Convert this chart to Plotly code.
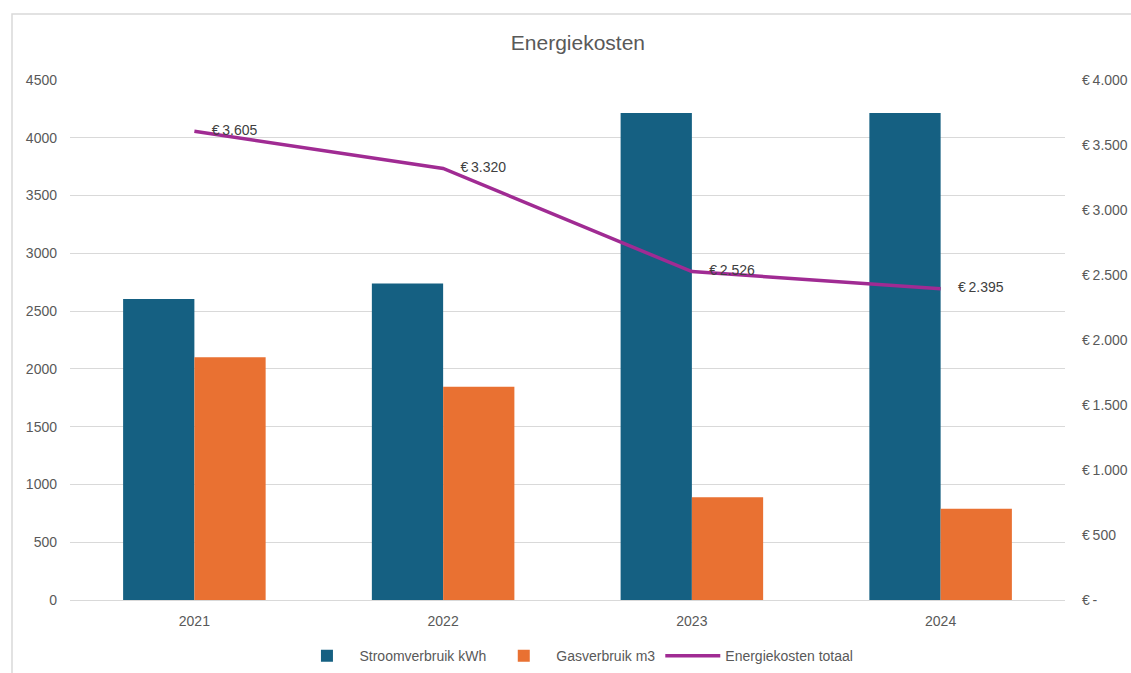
import plotly.graph_objects as go

years = ["2021", "2022", "2023", "2024"]
stroom_kwh = [2605, 2740, 4215, 4215]
gas_m3 = [2100, 1845, 890, 790]
kosten = [3605, 3320, 2526, 2395]
kosten_labels = ["€\u20093.605", "€\u20093.320", "€\u20092.526", "€\u20092.395"]

y1_ticks = [0, 500, 1000, 1500, 2000, 2500, 3000, 3500, 4000, 4500]
y2_ticks = [0, 500, 1000, 1500, 2000, 2500, 3000, 3500, 4000]
y2_ticktext = ["€\u2009-", "€\u2009500", "€\u20091.000", "€\u20091.500", "€\u20092.000",
               "€\u20092.500", "€\u20093.000", "€\u20093.500", "€\u20094.000"]

font_fam = "Liberation Sans, Arial, sans-serif"
grey = "#595959"

fig = go.Figure()
fig.add_trace(go.Bar(x=years, y=stroom_kwh, name="Stroomverbruik kWh",
                     marker=dict(color="#156082", line=dict(width=0))))
fig.add_trace(go.Bar(x=years, y=gas_m3, name="Gasverbruik m3",
                     marker=dict(color="#E97132", line=dict(width=0))))
fig.add_trace(go.Scatter(x=years, y=kosten, name="Energiekosten totaal", yaxis="y2",
                         mode="lines+markers+text", text=kosten_labels, textposition="middle right",
                         marker=dict(size=26, color="rgba(0,0,0,0)"),
                         textfont=dict(size=14, color="#404040", family=font_fam),
                         line=dict(color="#A02B93", width=3.5)))

fig.update_layout(
    width=1131, height=673,
    margin=dict(l=70, r=66, t=80, b=73, autoexpand=False),
    paper_bgcolor="white", plot_bgcolor="white",
    font=dict(family=font_fam, color=grey, size=14),
    title=dict(text="Energiekosten", x=0.511, xanchor="center", y=0.936, yanchor="middle",
               font=dict(size=21, color=grey, family=font_fam)),
    barmode="group", bargap=0.427, bargroupgap=0,
    xaxis=dict(type="category", showgrid=False, showline=True, linecolor="#d9d9d9",
               tickfont=dict(size=14, color=grey), ticks="", ticklabelstandoff=8,
               automargin=False),
    yaxis=dict(range=[0, 4500], tickvals=y1_ticks, showgrid=True, gridcolor="#d9d9d9",
               gridwidth=1, zeroline=False, tickfont=dict(size=14, color=grey),
               ticklabelstandoff=12, automargin=False),
    yaxis2=dict(range=[0, 4000], overlaying="y", side="right", tickvals=y2_ticks,
                ticktext=y2_ticktext, showgrid=False, zeroline=False,
                tickfont=dict(size=14, color=grey), ticklabelstandoff=16,
                automargin=False),
    legend=dict(orientation="h", x=0.509, xanchor="center", y=-0.108, yanchor="middle",
                font=dict(size=14, color=grey), traceorder="normal", itemwidth=55),
    showlegend=True,
    shapes=[dict(type="rect", xref="paper", yref="paper",
                 x0=(12 - 70) / 995, x1=1.2, y0=-0.3, y1=1 + (80 - 14) / 520,
                 line=dict(color="#d9d9d9", width=1.5), fillcolor="rgba(0,0,0,0)",
                 layer="below")],
)

fig.write_html("out.html", config={"displayModeBar": False},
               post_script="document.body.style.margin='0';document.body.style.overflow='hidden';")
